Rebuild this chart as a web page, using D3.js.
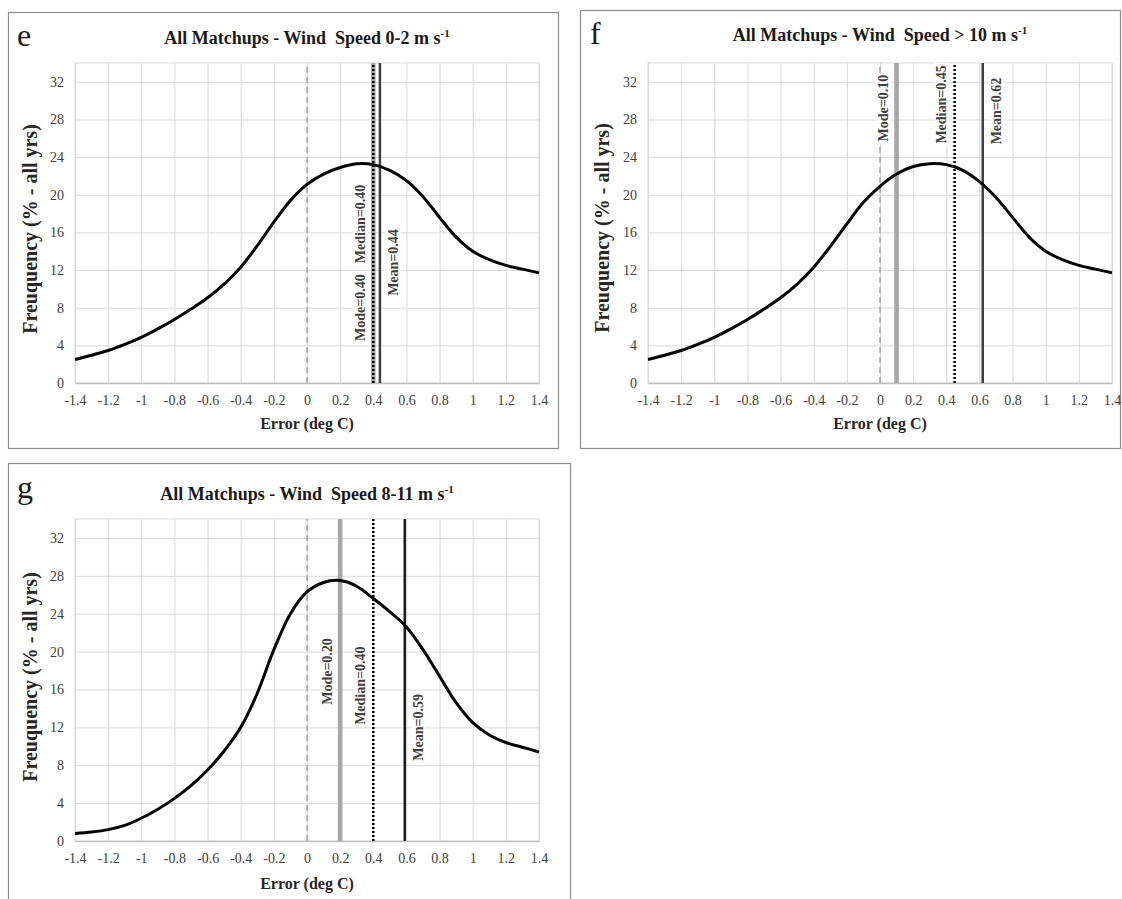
<!DOCTYPE html>
<html>
<head>
<meta charset="utf-8">
<script src="https://cdn.jsdelivr.net/npm/d3@7"></script>
<style>
body { margin: 0; background: #fff; }
svg text { font-family: "Liberation Serif", "Times New Roman", serif; }
</style>
</head>
<body>
<svg id="chart" width="1122" height="899"></svg>
<script>

// error bins (deg C), tick positions and tick labels
var errorBins = [-1.4, -1.3, -1.2, -1.1, -1, -0.9, -0.8, -0.7, -0.6, -0.5, -0.4, -0.3, -0.2, -0.1, 0,
                 0.1, 0.2, 0.3, 0.4, 0.5, 0.6, 0.7, 0.8, 0.9, 1, 1.1, 1.2, 1.3, 1.4];
var xTicks = [-1.4, -1.2, -1, -0.8, -0.6, -0.4, -0.2, 0, 0.2, 0.4, 0.6, 0.8, 1, 1.2, 1.4];
var xTickLabels = ["-1.4", "-1.2", "-1", "-0.8", "-0.6", "-0.4", "-0.2", "0", "0.2", "0.4", "0.6", "0.8", "1", "1.2", "1.4"];
var yTicks = [0, 4, 8, 12, 16, 20, 24, 28, 32];

// frequency (% - all yrs)
var freqLowWind  = [2.5, 2.95, 3.45, 4.1, 4.85, 5.75, 6.75, 7.85, 9.05, 10.5, 12.3, 14.6, 17.1, 19.4, 21.1,
                    22.2, 22.9, 23.3, 23.2, 22.6, 21.5, 19.8, 17.6, 15.5, 14.0, 13.1, 12.5, 12.1, 11.7];
var freqHighWind = [2.5, 2.95, 3.45, 4.1, 4.85, 5.75, 6.75, 7.85, 9.05, 10.5, 12.3, 14.5, 16.9, 19.2, 20.9,
                    22.2, 23.0, 23.3, 23.2, 22.6, 21.4, 19.7, 17.6, 15.5, 14.0, 13.1, 12.5, 12.1, 11.7];
var freqMidWind  = [0.8, 0.95, 1.2, 1.65, 2.4, 3.35, 4.5, 5.85, 7.5, 9.5, 12.0, 15.6, 20.2, 24.0, 26.3,
                    27.3, 27.5, 26.9, 25.6, 24.2, 22.6, 20.2, 17.4, 14.6, 12.5, 11.2, 10.4, 9.9, 9.4];

// panel stats
var panelLetters = ["e", "f", "g"];
var panelSpeeds = ["0-2", "> 10", "8-11"];
var modeVals = [0.40, 0.10, 0.20];
var medianVals = [0.40, 0.45, 0.40];
var meanVals = [0.44, 0.62, 0.59];

var svg = d3.select("#chart");

// layout of the three panels
var layouts = [
    {frame: [8, 12, 550, 436], left: 75, right: 539, top: 63, bottom: 383, titleY: 44, letter: [17, 46],
     yLabelX: 30, yLabelY: 229, xLabelY: 429, labY: [8.0, 16.9, 12.8], meanColor: "#404040"},
    {frame: [580, 10, 540, 438], left: 648, right: 1112, top: 63, bottom: 383, titleY: 41, letter: [590, 44],
     yLabelX: 602, yLabelY: 228, xLabelY: 429, labY: [29.2, 29.6, 28.9], meanColor: "#404040"},
    {frame: [8, 463, 562, 440], left: 75, right: 539, top: 519, bottom: 841, titleY: 500, letter: [17, 498],
     yLabelX: 30, yLabelY: 677, xLabelY: 889, labY: [17.9, 16.4, 12.0], meanColor: "#1a1a1a"}
];

var freqs = [freqLowWind, freqHighWind, freqMidWind];

layouts.forEach(function(L, i) { drawPanel(L, i); });

function drawPanel(L, i) {
    var data = errorBins.map(function(e, k) { return {err: e, freq: freqs[i][k]}; });

    // outer frame
    svg.append("rect")
        .attr("x", L.frame[0] + 0.5).attr("y", L.frame[1] + 0.5)
        .attr("width", L.frame[2]).attr("height", L.frame[3])
        .attr("fill", "none").attr("stroke", "#8c8c8c").attr("stroke-width", 1.2);

    var x = d3.scaleLinear().domain([-1.4, 1.4]).range([L.left, L.right]),
        y = d3.scaleLinear().domain([0, 34]).range([L.bottom, L.top]);

    var g = svg.append("g");

    // gridlines
    g.append("g")
        .attr("transform", "translate(0," + L.bottom + ")")
        .call(d3.axisBottom(x).tickValues(xTicks).tickSize(-(L.bottom - L.top)).tickFormat(""))
        .call(function(a) { a.select(".domain").remove(); a.selectAll("line").attr("stroke", "#d9d9d9"); });
    g.append("g")
        .attr("transform", "translate(" + L.left + ",0)")
        .call(d3.axisLeft(y).tickValues(yTicks).tickSize(-(L.right - L.left)).tickFormat(""))
        .call(function(a) { a.select(".domain").remove(); a.selectAll("line").attr("stroke", "#d9d9d9"); });
    g.append("rect")
        .attr("x", L.left).attr("y", L.top)
        .attr("width", L.right - L.left).attr("height", L.bottom - L.top)
        .attr("fill", "none").attr("stroke", "#d9d9d9");

    // axes with labels only
    var xa = g.append("g")
        .attr("transform", "translate(0," + L.bottom + ")")
        .call(d3.axisBottom(x).tickValues(xTicks).tickSize(0).tickPadding(12)
            .tickFormat(function(d, k) { return xTickLabels[k]; }));
    xa.select(".domain").attr("stroke", "#bfbfbf").attr("stroke-width", 1.5);
    var ya = g.append("g")
        .attr("transform", "translate(" + L.left + ",0)")
        .call(d3.axisLeft(y).tickValues(yTicks).tickSize(0).tickPadding(11));
    ya.select(".domain").remove();
    [xa, ya].forEach(function(a) {
        a.attr("font-family", null).attr("font-size", null);
        a.selectAll(".tick text")
            .style("font-family", "'Liberation Serif', serif")
            .style("font-size", "14px").attr("fill", "#404040");
    });

    // zero line
    g.append("line")
        .attr("x1", x(0)).attr("x2", x(0)).attr("y1", y(0)).attr("y2", y(34))
        .attr("stroke", "#9a9a9a").attr("stroke-width", 1.3).attr("stroke-dasharray", "6,4");

    // mode, median, mean
    var stats = [
        {name: "Mode", v: modeVals[i], color: "#a6a6a6", w: 4.5, dash: null, side: -1},
        {name: "Median", v: medianVals[i], color: "#000", w: 2.5, dash: "2,2", side: -1},
        {name: "Mean", v: meanVals[i], color: L.meanColor, w: 2.5, dash: null, side: 1}
    ];
    stats.forEach(function(s) {
        g.append("line")
            .attr("x1", x(s.v)).attr("x2", x(s.v)).attr("y1", y(0)).attr("y2", y(34))
            .attr("stroke", s.color).attr("stroke-width", s.w)
            .attr("stroke-dasharray", s.dash);
    });
    stats.forEach(function(s, k) {
        var lab = g.append("g")
            .attr("transform", "translate(" + (x(s.v) + s.side * 13) + "," + y(L.labY[k]) + ") rotate(-90)");
        var t = lab.append("text")
            .attr("text-anchor", "middle").attr("dy", "0.35em")
            .attr("font-size", 14).attr("font-weight", "bold").attr("fill", "#404040")
            .text(s.name + "=" + s.v.toFixed(2));
        var bb = t.node().getBBox();
        lab.insert("rect", "text")
            .attr("x", bb.x - 2).attr("y", bb.y).attr("width", bb.width + 4).attr("height", bb.height)
            .attr("fill", "#fff");
    });

    // frequency curve
    var line = d3.line()
        .curve(d3.curveCatmullRom.alpha(0.5))
        .x(function(d) { return x(d.err); })
        .y(function(d) { return y(d.freq); });
    g.append("path")
        .datum(data)
        .attr("d", line)
        .attr("fill", "none").attr("stroke", "#000").attr("stroke-width", 3);

    // title
    var title = svg.append("text")
        .attr("x", (L.left + L.right) / 2).attr("y", L.titleY)
        .attr("text-anchor", "middle").attr("font-size", 18).attr("font-weight", "bold")
        .attr("fill", "#1a1a1a").style("white-space", "pre");
    title.append("tspan").text("All Matchups - Wind  Speed " + panelSpeeds[i] + " m s");
    title.append("tspan").attr("dy", -7).attr("font-size", 11).text("-1");

    // panel letter
    svg.append("text")
        .attr("x", L.letter[0]).attr("y", L.letter[1])
        .attr("font-size", 32).attr("fill", "#1a1a1a")
        .text(panelLetters[i]);

    // axis titles
    svg.append("text")
        .attr("transform", "translate(" + L.yLabelX + "," + L.yLabelY + ") rotate(-90)")
        .attr("text-anchor", "middle").attr("dy", "0.35em")
        .attr("font-size", 20).attr("font-weight", "bold").attr("fill", "#262626")
        .text("Freuquency (% - all yrs)");
    svg.append("text")
        .attr("x", (L.left + L.right) / 2).attr("y", L.xLabelY)
        .attr("text-anchor", "middle")
        .attr("font-size", 16).attr("font-weight", "bold").attr("fill", "#262626")
        .text("Error (deg C)");
}

</script>
</body>
</html>
